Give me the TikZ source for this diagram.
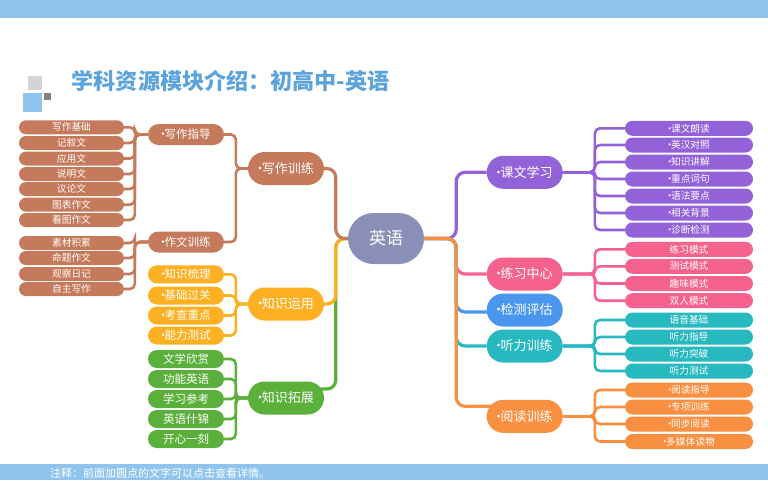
\documentclass[tikz,border=0pt]{standalone}
\usepackage{fontspec}
\newfontfamily\cjk{Noto Sans CJK SC}
\usetikzlibrary{shapes.misc,backgrounds}
\definecolor{cbrown}{HTML}{C67A5C}
\definecolor{cyellow}{HTML}{FDB022}
\definecolor{cgreen}{HTML}{5AB03A}
\definecolor{croot}{HTML}{8A8FB8}
\definecolor{cpurple}{HTML}{9462D8}
\definecolor{cpink}{HTML}{F5628F}
\definecolor{cblue}{HTML}{4A96EE}
\definecolor{cteal}{HTML}{27B8C0}
\definecolor{corange}{HTML}{F98F40}
\definecolor{cband}{HTML}{8FC4EE}
\definecolor{ctitle}{HTML}{5BA3DC}
\newcommand{\dt}{\makebox[0.3em]{·}}
\tikzset{
 x=1pt,y=-1pt,
 pill/.style={rounded rectangle,fill=#1,text=white,inner sep=0pt,anchor=center},
 root/.style={pill=croot,minimum width=76pt,minimum height=51pt,font=\cjk\fontsize{17}{17}\selectfont},
 branch/.style={pill=#1,minimum width=76pt,minimum height=33pt,font=\cjk\fontsize{13}{13}\selectfont},
 midleaf/.style={pill=#1,minimum width=76pt,minimum height=18pt,font=\cjk\fontsize{11.5}{12}\selectfont},
 midtall/.style={pill=#1,minimum width=76pt,minimum height=21pt,font=\cjk\fontsize{11.5}{12}\selectfont},
 lleaf/.style={pill=#1,minimum width=105pt,minimum height=14pt,font=\cjk\fontsize{9.7}{10}\selectfont},
 rleaf/.style={pill=#1,minimum width=128pt,minimum height=15pt,font=\cjk\fontsize{9.7}{10}\selectfont},
 trunk/.style={draw=#1,line width=3.2pt,rounded corners=9pt},
 twig/.style={draw=#1,line width=2.6pt,rounded corners=5pt},
}
\begin{document}
\begin{tikzpicture}
\useasboundingbox (0,0) rectangle (768,480);
\fill[cband] (0,0) rectangle (768,18);
\fill[cband] (0,464) rectangle (768,480);
\fill[black!17] (28,76) rectangle (42,90);
\fill[cband] (23,93) rectangle (42,112);
\fill[black!50] (44,93) rectangle (51,100);
\node[anchor=west,inner sep=0pt,text=ctitle,font=\cjk\bfseries\fontsize{22.1}{23}\selectfont] (title) at (71.5,81) {学科资源模块介绍：初高中-英语};
\node[anchor=west,inner sep=0pt,text=white,font=\cjk\fontsize{11}{11}\selectfont] (note) at (50,473) {注释：前面加圆点的文字可以点击查看详情。};

\node[root] (root) at (386,238.5) {英语};
% left branches
\node[branch=cbrown] (xz) at (286,168.5) {\dt 写作训练};
\node[branch=cyellow] (zy) at (286,304) {\dt 知识运用};
\node[branch=cgreen] (zt) at (286,398) {\dt 知识拓展};
\node[midtall=cbrown] (xd) at (186,134.5) {\dt 写作指导};
\node[midtall=cbrown] (zw) at (186,242) {\dt 作文训练};
\foreach \n/\y/\t in {1/127.3/写作基础,2/143/记叙文,3/158.5/应用文,4/174/说明文,5/189/议论文,6/204.7/图表作文,7/220/看图作文}
  \node[lleaf=cbrown] (a\n) at (71.5,\y) {\t};
\foreach \n/\y/\t in {1/243/素材积累,2/258/命题作文,3/274/观察日记,4/289/自主写作}
  \node[lleaf=cbrown] (b\n) at (71.5,\y) {\t};
\foreach \n/\y/\t in {1/274.3/知识梳理,2/295.5/基础过关,3/315.5/考查重点,4/335.5/能力测试}
  \node[midleaf=cyellow] (c\n) at (186,\y) {\dt \t};
\foreach \n/\y/\t in {1/359/文学欣赏,2/379/功能英语,3/399/学习参考,4/419/英语什锦,5/439/开心一刻}
  \node[midleaf=cgreen] (d\n) at (186,\y) {\t};
% right branches
\node[branch=cpurple] (kw) at (524.7,172.3) {\dt 课文学习};
\node[branch=cpink] (lx) at (524.7,274) {\dt 练习中心};
\node[branch=cblue] (jc) at (524.7,310) {\dt 检测评估};
\node[branch=cteal] (tl) at (524.7,346) {\dt 听力训练};
\node[branch=corange] (yd) at (524.7,416.3) {\dt 阅读训练};
\foreach \n/\y/\t in {1/128.3/课文朗读,2/145/英汉对照,3/162/知识讲解,4/179/重点词句,5/196/语法要点,6/213/相关背景,7/230/诊断检测}
  \node[rleaf=cpurple] (e\n) at (689,\y) {\dt \t};
\foreach \n/\y/\t in {1/249.3/练习模式,2/266.3/测试模式,3/283.5/趣味模式,4/300.7/双人模式}
  \node[rleaf=cpink] (f\n) at (689,\y) {\t};
\foreach \n/\y/\t in {1/320/语音基础,2/337/听力指导,3/354/听力突破,4/371/听力测试}
  \node[rleaf=cteal] (g\n) at (689,\y) {\t};
\foreach \n/\y/\t in {1/390/阅读指导,2/407/专项训练,3/424/同步阅读,4/441.5/多媒体读物}
  \node[rleaf=corange] (h\n) at (689,\y) {\dt \t};

\begin{scope}[on background layer]
% left trunks
\draw[trunk=cgreen] (root.west) -- ++(-12,0) |- ([xshift=-8pt,yshift=9pt]zt.east);
\draw[trunk=cyellow] (root.west) -- ++(-12,0) |- ([xshift=-8pt]zy.east);
\draw[trunk=cbrown] (root.west) -- ++(-12,0) |- (xz.east);
\draw[twig=cbrown] (xz.west) -- ++(-12,0) |- (xd.east);
\draw[twig=cbrown] (xz.west) -- ++(-12,0) |- (zw.east);
\foreach \n in {1,...,7} \draw[twig=cbrown] (xd.west) -- ++(-13,0) |- (a\n.east);
\foreach \n in {1,...,4} \draw[twig=cbrown] (zw.west) -- ++(-13,0) |- (b\n.east);
\foreach \n in {1,...,4} \draw[twig=cyellow] (zy.west) -- ++(-12,0) |- (c\n.east);
\foreach \n in {1,...,5} \draw[twig=cgreen] (zt.west) -- ++(-12,0) |- (d\n.east);
% right trunks
\draw[trunk=cpurple] (root.east) -- ++(32,0) |- (kw.west);
\draw[trunk=cpink] (root.east) -- ++(32,0) |- (lx.west);
\draw[trunk=cblue] (root.east) -- ++(32,0) |- ([xshift=8pt,yshift=-2pt]jc.west);
\draw[trunk=cteal] (root.east) -- ++(32,0) |- (tl.west);
\draw[trunk=corange] (root.east) -- ++(32,0) |- ([xshift=8pt,yshift=10pt]yd.west);
\foreach \n in {1,...,7} \draw[twig=cpurple] (kw.east) -- ++(32,0) |- (e\n.west);
\foreach \n in {1,...,4} \draw[twig=cpink] (lx.east) -- ++(32,0) |- (f\n.west);
\foreach \n in {1,...,4} \draw[twig=cteal] (tl.east) -- ++(32,0) |- (g\n.west);
\foreach \n in {1,...,4} \draw[twig=corange] (yd.east) -- ++(32,0) |- (h\n.west);
\end{scope}
\end{tikzpicture}
\end{document}
